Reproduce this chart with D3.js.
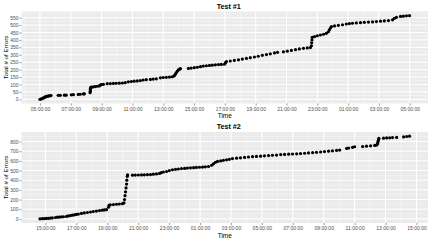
<!DOCTYPE html>
<html><head><meta charset="utf-8">
<script src="https://cdn.jsdelivr.net/npm/d3@7"></script>
<style>body{margin:0;background:#fff}svg{display:block}text{font-family:"Liberation Sans",Arial,sans-serif}</style>
</head><body><svg id="c" width="432" height="241"></svg>
<script>
// ---------- DATA ----------
const titles = ["Test #1", "Test #2"];
const test1Times = ["05:00","05:04","05:08","05:12","05:16","05:19","05:23","05:27","05:31","05:35","05:39","05:43",
"06:11","06:19","06:35","06:42","07:02","07:10","07:29","07:37","07:49","07:53",
"08:15","08:16","08:16","08:17","08:18","08:20","08:28","08:35","08:43","08:51","08:55","08:59","09:07",
"09:22","09:34","09:46","09:57","10:09","10:21","10:32",
"10:44","10:56","11:07","11:19","11:31",
"11:42","11:54","12:10","12:21","12:33",
"12:49","13:00","13:12","13:24","13:35",
"13:43","13:47","13:51","13:55","13:59","14:03","14:07",
"14:38","14:49","15:01","15:13","15:25",
"15:36","15:48","16:00","16:11","16:23","16:35","16:46","16:58",
"17:02","17:06","17:21","17:37","17:53","18:08","18:24","18:39","18:55","19:10","19:26","19:42","19:57","20:13","20:25",
"20:48","21:03","21:19","21:35","21:50","22:06","22:21","22:33",
"22:37","22:38","22:39","22:40","22:49","23:00","23:12","23:24","23:35",
"23:43","23:47","23:51","23:55","00:07","00:22","00:38","00:53","01:05",
"01:17","01:32","01:48","02:03","02:19","02:35","02:50","03:06","03:21","03:37","03:53","04:00","04:08","04:24","04:35","04:47","04:59"];
const test1Errors = [0,2,5,8,12,15,18,20,22,23,24,25,
27,27,28,28,30,31,33,34,36,37,
45,55,65,75,80,82,84,86,88,90,95,99,101,
105,106,107,108,109,110,112,
118,120,122,124,126,
130,132,134,136,138,
145,147,148,150,152,
158,168,180,190,198,203,206,
208,210,213,216,220,
224,226,228,230,232,234,235,236,
245,254,258,262,266,271,275,280,285,290,296,301,306,312,316,
320,324,329,334,339,343,346,348,
360,380,400,417,422,428,433,438,444,
455,468,480,489,494,498,502,507,510,
512,514,516,518,520,521,523,526,528,530,535,545,552,558,560,562,563];

const test2Times = ["14:39","14:48","14:56","15:04","15:12","15:19","15:27","15:39","15:47","15:54","16:02","16:10","16:22","16:29","16:37","16:45","16:53","17:00","17:08","17:20","17:31","17:43","17:55","18:06","18:18","18:30","18:41","18:49","18:57",
"19:05","19:07","19:12","19:24","19:36","19:47","19:59",
"20:05","20:07","20:09","20:11","20:13","20:15","20:16","20:18","20:19",
"20:38","20:49","21:01","21:13","21:24","21:36","21:48",
"21:59","22:11","22:23","22:30","22:38","22:50","23:01","23:13","23:25","23:36","23:48","00:00","00:11","00:23","00:35","00:46","00:58","01:10","01:21","01:33","01:45","01:52","02:00",
"02:08","02:20","02:31","02:43","02:54",
"03:06","03:22","03:37","03:53","04:08","04:24","04:39","04:55","05:10","05:26","05:41","05:57",
"06:13","06:28","06:44","06:59","07:15","07:30","07:46","08:01","08:17","08:32",
"08:48","09:03","09:19","09:34","09:50","10:02",
"10:29","10:37","10:52","11:00",
"11:31","11:46","12:02","12:18","12:25",
"12:29","12:30","12:31","12:33","12:34",
"12:52","13:04","13:16","13:27","13:43",
"14:10","14:22","14:33"];
const test2Errors = [0,2,3,5,6,8,10,14,17,19,21,22,25,30,34,38,42,46,50,56,61,66,71,76,81,86,90,92,95,
120,140,145,148,151,154,157,
165,200,240,280,320,360,400,440,455,
452,453,454,455,456,457,458,
462,465,470,478,485,490,500,508,513,516,520,522,526,528,530,532,534,536,538,542,555,570,585,
594,600,606,611,616,
624,628,632,636,640,643,646,649,652,655,658,660,
665,667,669,671,673,676,679,682,685,688,
692,696,700,704,708,712,
729,733,740,746,
748,752,756,760,763,
775,790,805,820,833,
835,837,839,841,843,
848,852,856];

const test1XTicks = ["05:00:00","07:00:00","09:00:00","11:00:00","13:00:00","15:00:00","17:00:00","19:00:00","21:00:00","23:00:00","01:00:00","03:00:00","05:00:00"];
const test2XTicks = ["15:00:00","17:00:00","19:00:00","21:00:00","23:00:00","01:00:00","03:00:00","05:00:00","07:00:00","09:00:00","11:00:00","13:00:00","15:00:00"];
const test1YTicks = [0,50,100,150,200,250,300,350,400,450,500,550];
const test2YTicks = [0,100,200,300,400,500,600,700,800];

// ---------- HELPERS ----------
function toDates(base, arr) {
  let day = 0, prev = -1;
  return arr.map(s => {
    const p = s.split(":").map(Number);
    const mins = p[0] * 60 + p[1];
    if (mins < prev) day++;
    prev = mins;
    return new Date(base[0], base[1], base[2] + day, p[0], p[1], p[2] || 0);
  });
}

const svg = d3.select("#c");

function panel(cfg) {
  const times = toDates(cfg.base, cfg.times);
  const data = times.map((t, i) => ({ t, v: cfg.values[i] }));
  const tickDates = toDates(cfg.base, cfg.xTicks);
  const tExt = d3.extent(times), vExt = d3.extent(cfg.values);
  const tPad = (tExt[1] - tExt[0]) * 0.05, vPad = (vExt[1] - vExt[0]) * 0.05;
  const x = d3.scaleTime().domain([new Date(+tExt[0] - tPad), new Date(+tExt[1] + tPad)]).range([cfg.left, cfg.right]);
  const y = d3.scaleLinear().domain([vExt[0] - vPad, vExt[1] + vPad]).range([cfg.bottom, cfg.top]);

  const g = svg.append("g");
  g.append("rect").attr("x", cfg.left).attr("y", cfg.top)
    .attr("width", cfg.right - cfg.left).attr("height", cfg.bottom - cfg.top).attr("fill", "#EBEBEB");

  // minor grid
  const minorX = d3.timeHour.every(1).range(x.domain()[0], x.domain()[1]);
  const yStep = cfg.yTicks[1] - cfg.yTicks[0];
  const minorY = d3.range(Math.ceil(y.domain()[0] / (yStep / 2)) * (yStep / 2), y.domain()[1], yStep / 2);
  g.selectAll(".mx").data(minorX).join("line")
    .attr("x1", d => x(d)).attr("x2", d => x(d)).attr("y1", cfg.top).attr("y2", cfg.bottom)
    .attr("stroke", "#F7F7F7").attr("stroke-width", 0.6);
  g.selectAll(".my").data(minorY).join("line")
    .attr("y1", d => y(d)).attr("y2", d => y(d)).attr("x1", cfg.left).attr("x2", cfg.right)
    .attr("stroke", "#F7F7F7").attr("stroke-width", 0.6);
  // major grid
  g.selectAll(".gx").data(tickDates).join("line")
    .attr("x1", d => x(d)).attr("x2", d => x(d)).attr("y1", cfg.top).attr("y2", cfg.bottom)
    .attr("stroke", "#fff").attr("stroke-width", 1);
  g.selectAll(".gy").data(cfg.yTicks).join("line")
    .attr("y1", d => y(d)).attr("y2", d => y(d)).attr("x1", cfg.left).attr("x2", cfg.right)
    .attr("stroke", "#fff").attr("stroke-width", 1);

  // points
  g.selectAll("circle").data(data).join("circle")
    .attr("cx", d => x(d.t)).attr("cy", d => y(d.v)).attr("r", 1.6).attr("fill", "#000");

  // axes
  const ax = g.append("g").attr("transform", `translate(0,${cfg.bottom})`)
    .call(d3.axisBottom(x).tickValues(tickDates).tickSize(2).tickPadding(1.5)
      .tickFormat((d, i) => cfg.xTicks[i]));
  const ay = g.append("g").attr("transform", `translate(${cfg.left},0)`)
    .call(d3.axisLeft(y).tickValues(cfg.yTicks).tickSize(2).tickPadding(1));
  [ax, ay].forEach(a => {
    a.select(".domain").remove();
    a.selectAll(".tick line").attr("stroke", "#333").attr("stroke-width", 0.5);
    a.selectAll(".tick text").attr("fill", "#4D4D4D").style("font-size", "5px")
      .style("font-family", '"Liberation Sans", Arial, sans-serif');
  });

  // titles
  const cx = (cfg.left + cfg.right) / 2;
  g.append("text").attr("x", cx + 4).attr("y", cfg.top - 3).attr("text-anchor", "middle")
    .style("font-size", "7.2px").style("font-weight", "bold").attr("fill", "#000").text(cfg.title);
  g.append("text").attr("x", cx).attr("y", cfg.bottom + 14.5).attr("text-anchor", "middle")
    .style("font-size", "6.4px").attr("fill", "#000").text("Time");
  g.append("text").attr("transform", `translate(7.8,${(cfg.top + cfg.bottom) / 2}) rotate(-90)`)
    .attr("text-anchor", "middle").style("font-size", "6.2px").attr("fill", "#000").text("Total # of Errors");
}

panel({ title: titles[0], base: [2015, 5, 1], times: test1Times, values: test1Errors,
  xTicks: test1XTicks, yTicks: test1YTicks, left: 21.5, right: 428, top: 11.5, bottom: 103.5 });
panel({ title: titles[1], base: [2015, 5, 2], times: test2Times, values: test2Errors,
  xTicks: test2XTicks, yTicks: test2YTicks, left: 21.5, right: 428, top: 132, bottom: 223 });
</script>
</body></html>
